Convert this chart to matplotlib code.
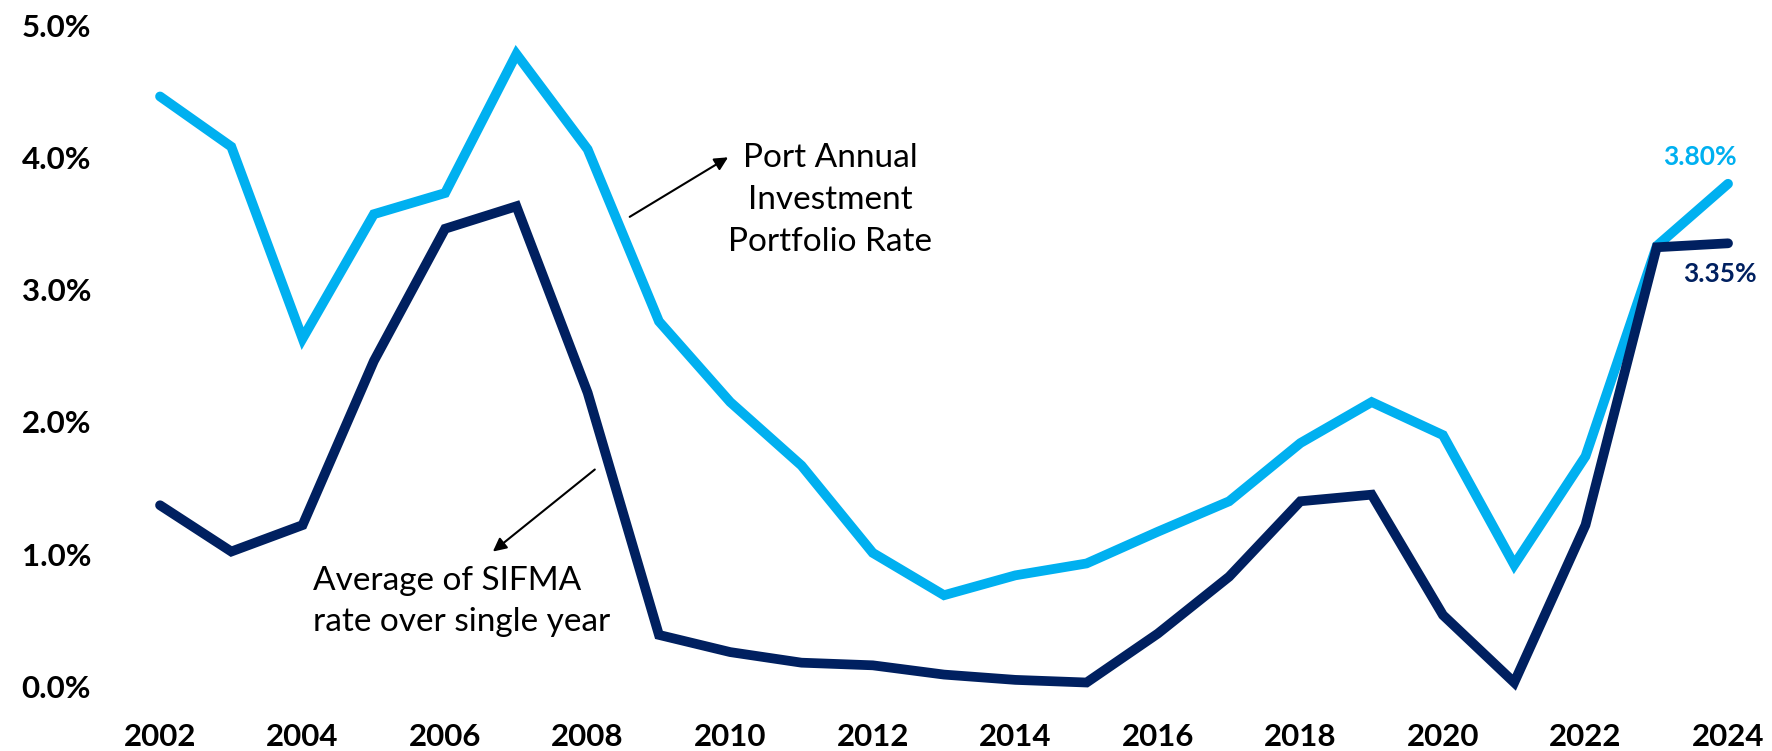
import matplotlib
matplotlib.use('Agg')
import matplotlib.pyplot as plt
from matplotlib import ticker

plt.rcParams['font.family'] = ['Lato', 'DejaVu Sans']

years = list(range(2002, 2025))
# Port Annual Investment Portfolio Rate (%)
port_rate = [4.46, 4.08, 2.63, 3.57, 3.73, 4.78, 4.06, 2.76, 2.15, 1.67, 1.01, 0.69,
             0.84, 0.93, 1.17, 1.40, 1.84, 2.15, 1.90, 0.92, 1.74, 3.33, 3.80]
# Average of SIFMA rate over single year (%)
sifma_rate = [1.37, 1.02, 1.22, 2.46, 3.46, 3.63, 2.22, 0.39, 0.26, 0.18, 0.16, 0.09,
              0.05, 0.03, 0.40, 0.83, 1.40, 1.45, 0.54, 0.03, 1.22, 3.32, 3.35]
x_ticks = list(range(2002, 2025, 2))
y_ticks = [0, 1, 2, 3, 4, 5]

light_blue = '#00B0F0'
navy = '#002060'

fig = plt.figure(figsize=(17.72, 7.51), dpi=100)
ax = fig.add_axes([0.0702, 0.0859, 0.9251, 0.8808])

ax.plot(years, port_rate, color=light_blue, lw=7, solid_joinstyle='miter',
        solid_capstyle='round', clip_on=False, zorder=2)
ax.plot(years, sifma_rate, color=navy, lw=7, solid_joinstyle='miter',
        solid_capstyle='round', clip_on=False, zorder=3)

ax.set_xlim(2001.5, 2024.5)
ax.set_ylim(0, 5)
ax.xaxis.set_major_locator(ticker.FixedLocator(x_ticks))
ax.yaxis.set_major_locator(ticker.FixedLocator(y_ticks))
ax.yaxis.set_major_formatter(ticker.FuncFormatter(lambda v, p: f'{v:.1f}%'))
ax.spines[['left', 'right', 'top', 'bottom']].set_visible(False)
ax.tick_params(axis='both', length=0, labelsize=22.5)
ax.tick_params(axis='y', pad=24)
ax.tick_params(axis='x', pad=26)
for lab in ax.get_xticklabels() + ax.get_yticklabels():
    lab.set_fontweight('bold')

# callouts
ax.annotate('', xy=(2009.97, 4.00), xytext=(2008.59, 3.55),
            arrowprops=dict(arrowstyle='-|>', color='black', lw=1.5,
                            mutation_scale=20, shrinkA=0, shrinkB=0))
ax.text(2011.4, 3.68, 'Port Annual\nInvestment\nPortfolio Rate', fontsize=24,
        ha='center', va='center', multialignment='center', linespacing=1.5)

ax.annotate('', xy=(2006.67, 1.02), xytext=(2008.10, 1.64),
            arrowprops=dict(arrowstyle='-|>', color='black', lw=1.5,
                            mutation_scale=20, shrinkA=0, shrinkB=0))
ax.text(2004.15, 0.64, 'Average of SIFMA\nrate over single year', fontsize=24,
        ha='left', va='center', linespacing=1.45)

# end labels
ax.text(2023.6, 4.0, f'{port_rate[-1]:.2f}%', color=light_blue, fontsize=19,
        fontweight='bold', ha='center', va='center')
ax.text(2023.88, 3.12, f'{sifma_rate[-1]:.2f}%', color=navy, fontsize=19,
        fontweight='bold', ha='center', va='center')

fig.savefig('out.png', dpi=100)
